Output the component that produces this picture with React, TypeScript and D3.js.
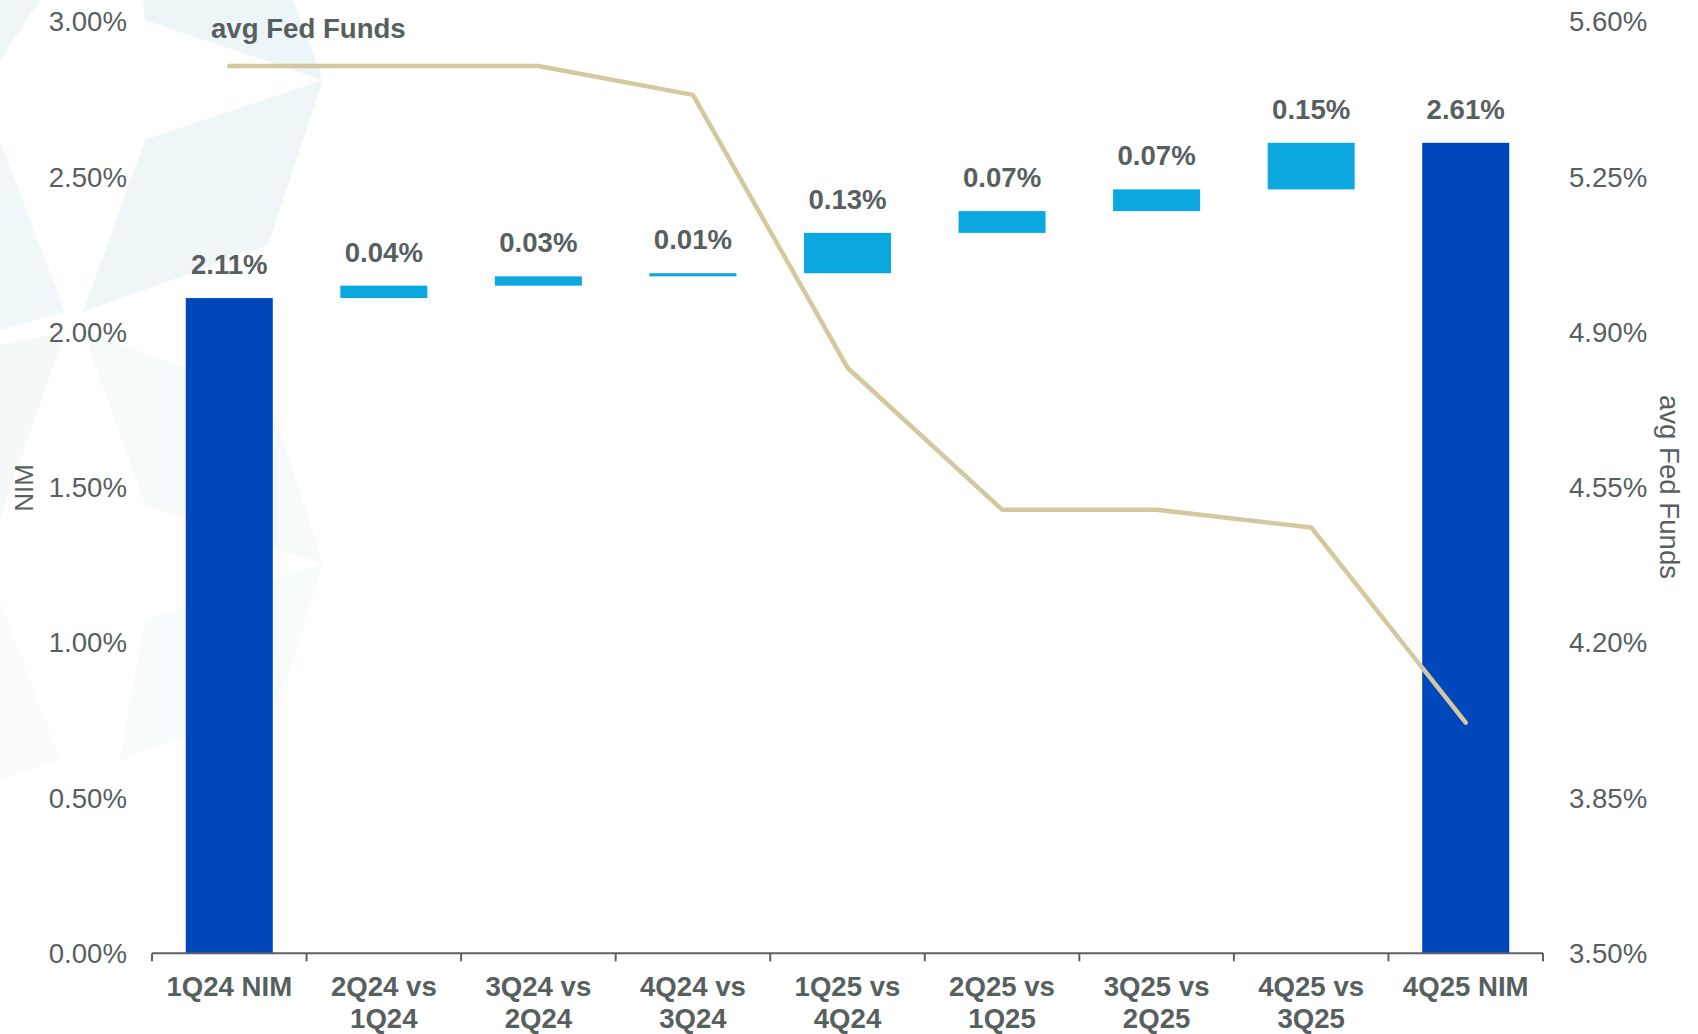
import React from "react";
import * as d3 from "d3";

const categories = [
  ["1Q24 NIM"],
  ["2Q24 vs", "1Q24"],
  ["3Q24 vs", "2Q24"],
  ["4Q24 vs", "3Q24"],
  ["1Q25 vs", "4Q24"],
  ["2Q25 vs", "1Q25"],
  ["3Q25 vs", "2Q25"],
  ["4Q25 vs", "3Q25"],
  ["4Q25 NIM"],
];
const startNIM = 2.11;
const deltas = [0.04, 0.03, 0.01, 0.13, 0.07, 0.07, 0.15];
const endNIM = 2.61;
const fedFunds = [5.5, 5.5, 5.5, 5.435, 4.82, 4.5, 4.5, 4.46, 4.02];
const leftTicks = [0, 0.5, 1, 1.5, 2, 2.5, 3];
const rightTicks = [3.5, 3.85, 4.2, 4.55, 4.9, 5.25, 5.6];

const W = 1698;
const H = 1034;
const X0 = 152;
const X1 = 1543;
const Y0 = 953.3;
const Y1 = 21.7;

const DARK = "#0047bb";
const LIGHT = "#0aa8df";
const TEXT = "#585f5f";
const LINE = "#d4c89f";
const AXIS = "#5d6163";
const FONT = "'Liberation Sans', Arial, Helvetica, sans-serif";
const FS = 27.6;

export default function App() {
  const keys = categories.map((c) => c.join(" "));
  const x = d3
    .scaleBand<string>()
    .domain(keys)
    .range([X0, X1])
    .paddingInner(0.437)
    .paddingOuter(0.437 / 2);
  const step = x.step();
  const yL = d3.scaleLinear().domain([0, 3]).range([Y0, Y1]);
  const yR = d3.scaleLinear().domain([3.5, 5.6]).range([Y0, Y1]);

  const segs: { key: string; lo: number; hi: number; label: number; total: boolean }[] = [];
  segs.push({ key: keys[0], lo: 0, hi: startNIM, label: startNIM, total: true });
  let cum = startNIM;
  deltas.forEach((d, i) => {
    segs.push({ key: keys[i + 1], lo: cum, hi: cum + d, label: d, total: false });
    cum += d;
  });
  segs.push({ key: keys[keys.length - 1], lo: 0, hi: endNIM, label: endNIM, total: true });

  const line = d3
    .line<number>()
    .x((_, i) => (x(keys[i]) as number) + x.bandwidth() / 2)
    .y((d) => yR(d));

  const boundaries = d3.range(keys.length + 1).map((i) => X0 + step * i);

  return (
    <svg
      width={W}
      height={H}
      style={{ position: "absolute", left: 0, top: 0, display: "block", background: "#fff" }}
      fontFamily={FONT}
    >
      <g>
        <polygon points="143,0 145,20 323,80 293,0" fill="#ecf5f8" />
        <polygon points="0,0 40,0 0,60" fill="#eef6f8" />
        <polygon points="145,140 323,80 268,245 83,312" fill="#eef6f8" />
        <polygon points="0,140 65,312 0,330" fill="#f1f8f9" />
        <polygon points="83,330 270,400 323,564 145,505" fill="#f6fafb" />
        <polygon points="0,345 65,332 0,520" fill="#f5f9fa" />
        <polygon points="145,620 323,564 280,700 120,760" fill="#f9fcfc" />
        <polygon points="0,600 60,760 0,780" fill="#fafcfd" />
      </g>

      {segs.map((s, i) => (
        <rect
          key={i}
          x={x(s.key)}
          y={yL(s.hi)}
          width={x.bandwidth()}
          height={Math.max(yL(s.lo) - yL(s.hi), 3)}
          fill={s.total ? DARK : LIGHT}
        />
      ))}

      <path
        d={line(fedFunds) || ""}
        fill="none"
        stroke={LINE}
        strokeWidth={4.5}
        strokeLinecap="round"
        strokeLinejoin="round"
      />

      {segs.map((s, i) => (
        <text
          key={i}
          x={(x(s.key) as number) + x.bandwidth() / 2}
          y={yL(s.hi) - 24}
          textAnchor="middle"
          fontSize={FS}
          fontWeight="bold"
          fill={TEXT}
        >
          {s.label.toFixed(2) + "%"}
        </text>
      ))}

      <line x1={X0} x2={X1} y1={Y0} y2={Y0} stroke={AXIS} strokeWidth={2} />
      {boundaries.map((bx, i) => (
        <line key={i} x1={bx} x2={bx} y1={Y0} y2={Y0 + 8} stroke={AXIS} strokeWidth={2} />
      ))}
      {categories.map((c, i) => (
        <text
          key={i}
          x={(x(keys[i]) as number) + x.bandwidth() / 2}
          textAnchor="middle"
          fontSize={FS}
          fontWeight="bold"
          fill={TEXT}
        >
          {c.map((l, j) => (
            <tspan key={j} x={(x(keys[i]) as number) + x.bandwidth() / 2} y={996 + j * 31.5}>
              {l}
            </tspan>
          ))}
        </text>
      ))}

      {leftTicks.map((t) => (
        <text key={t} x={127} y={yL(t)} dy="0.35em" textAnchor="end" fontSize={FS} fill={TEXT}>
          {t.toFixed(2) + "%"}
        </text>
      ))}
      {rightTicks.map((t) => (
        <text key={t} x={1569} y={yR(t)} dy="0.35em" textAnchor="start" fontSize={FS} fill={TEXT}>
          {t.toFixed(2) + "%"}
        </text>
      ))}

      <text
        transform={`translate(24,488) rotate(-90)`}
        textAnchor="middle"
        dy="0.35em"
        fontSize={26}
        fill={TEXT}
      >
        NIM
      </text>
      <text
        transform={`translate(1670,487) rotate(90)`}
        textAnchor="middle"
        dy="0.35em"
        fontSize={FS}
        fill={TEXT}
      >
        avg Fed Funds
      </text>

      <text x={211} y={38} fontSize={FS} fontWeight="bold" fill={TEXT}>
        avg Fed Funds
      </text>
    </svg>
  );
}
